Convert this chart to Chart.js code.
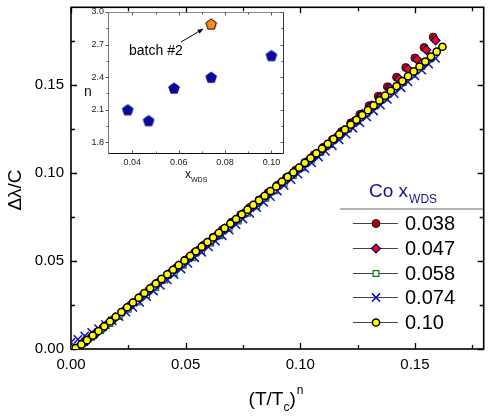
<!DOCTYPE html>
<html>
<head>
<meta charset="utf-8">
<script src="https://cdn.jsdelivr.net/npm/chart.js@4/dist/chart.umd.min.js"></script>
<style>
  html, body { margin: 0; padding: 0; background: #fff; }
  #wrap { position: relative; width: 491px; height: 417px; }
  #main { position: absolute; left: 0; top: 0; }
  #inset { position: absolute; left: 80px; top: 5px; }
</style>
</head>
<body>
<div id="wrap">
  <canvas id="main" width="491" height="417"></canvas>
  <canvas id="inset" width="210" height="185"></canvas>
</div>
<script>
// main plot: (T/Tc)^n vs Δλ/C, one series per Co content
const seriesLabels = ["0.038", "0.047", "0.058", "0.074", "0.10"];

const x038 = [0.002,0.006,0.010,0.014,0.018,0.022,0.026,0.030,0.034,0.038,0.042,0.046,0.050,0.054,0.058,0.062,0.066,0.070,0.074,0.078,
  0.082,0.086,0.090,0.094,0.098,0.102,0.106,0.110,0.114,0.118,0.122,0.126,0.130,0.134,0.138,0.142,0.146,0.150,0.154,0.158];
const y038 = [0.0004,0.0039,0.0079,0.0121,0.0163,0.0206,0.0248,0.0291,0.0334,0.0377,0.0420,0.0462,0.0505,0.0548,0.0591,0.0634,0.0677,0.0720,0.0762,0.0804,
  0.0846,0.0888,0.0930,0.0974,0.1016,0.1059,0.1102,0.1145,0.1189,0.1235,0.1284,0.1332,0.1381,0.1435,0.1489,0.1543,0.1598,0.1652,0.1712,0.1771];

const x047 = [0.003,0.007,0.011,0.015,0.019,0.023,0.027,0.031,0.035,0.039,0.043,0.047,0.051,0.055,0.059,0.063,0.067,0.071,0.075,0.079,
  0.083,0.087,0.091,0.095,0.099,0.103,0.107,0.111,0.115,0.119,0.123,0.127,0.131,0.135,0.139,0.143,0.147,0.151,0.155,0.159];
const y047 = [0.0008,0.0047,0.0089,0.0131,0.0175,0.0218,0.0261,0.0304,0.0347,0.0390,0.0431,0.0473,0.0515,0.0557,0.0599,0.0641,0.0683,0.0725,0.0767,0.0809,
  0.0852,0.0894,0.0936,0.0979,0.1022,0.1065,0.1108,0.1151,0.1194,0.1240,0.1288,0.1334,0.1382,0.1431,0.1482,0.1534,0.1589,0.1643,0.1698,0.1752];

const x058 = [0.001,0.005,0.009,0.013,0.017,0.021,0.025,0.029,0.033,0.037,0.041,0.045,0.049,0.053,0.057,0.061,0.065,0.069,0.073,0.077,
  0.081,0.085,0.089,0.093,0.097,0.101,0.105,0.109,0.113,0.117,0.121,0.125,0.129,0.133,0.137,0.141,0.145,0.149,0.153,0.157];
const y058 = [0.0002,0.0030,0.0066,0.0105,0.0144,0.0184,0.0225,0.0266,0.0307,0.0349,0.0391,0.0433,0.0475,0.0517,0.0559,0.0601,0.0643,0.0685,0.0727,0.0770,
  0.0812,0.0855,0.0898,0.0941,0.0984,0.1028,0.1072,0.1116,0.1160,0.1204,0.1248,0.1292,0.1336,0.1380,0.1424,0.1469,0.1514,0.1559,0.1604,0.1650];

const x074 = [0.000,0.003,0.006,0.009,0.012,0.015,0.018,0.021,0.024,0.027,0.030,0.033,0.036,0.039,0.042,0.045,0.048,0.051,0.054,0.057,
  0.060,0.063,0.066,0.069,0.072,0.075,0.078,0.081,0.084,0.087,0.090,0.093,0.096,0.099,0.102,0.105,0.108,0.111,0.114,0.117,
  0.120,0.123,0.126,0.129,0.132,0.135,0.138,0.141,0.144,0.147,0.150,0.153,0.156,0.159];
const y074 = [0.0038,0.0055,0.0074,0.0095,0.0116,0.0138,0.0160,0.0184,0.0209,0.0236,0.0265,0.0297,0.0329,0.0361,0.0392,0.0423,0.0454,0.0486,0.0518,0.0549,
  0.0580,0.0612,0.0643,0.0675,0.0706,0.0738,0.0770,0.0802,0.0833,0.0865,0.0897,0.0929,0.0961,0.0993,0.1025,0.1057,0.1090,0.1122,0.1155,0.1187,
  0.1220,0.1253,0.1285,0.1318,0.1351,0.1384,0.1417,0.1450,0.1483,0.1517,0.1550,0.1583,0.1617,0.1650];

const x10 = [0.002,0.0045,0.007,0.0095,0.012,0.0145,0.017,0.0195,0.022,0.0245,0.027,0.0295,0.032,0.0345,0.037,0.0395,0.042,0.0445,0.047,0.0495,
  0.052,0.0545,0.057,0.0595,0.062,0.0645,0.067,0.0695,0.072,0.0745,0.077,0.0795,0.082,0.0845,0.087,0.0895,0.092,0.0945,0.097,0.0995,
  0.102,0.1045,0.107,0.1095,0.112,0.1145,0.117,0.1195,0.122,0.1245,0.127,0.1295,0.132,0.1345,0.137,0.1395,0.142,0.1445,0.147,0.1495,
  0.152,0.1545,0.157,0.1595,0.162];
const y10 = [0.0005,0.0026,0.0050,0.0076,0.0102,0.0129,0.0156,0.0183,0.0210,0.0237,0.0264,0.0291,0.0318,0.0345,0.0372,0.0398,0.0424,0.0450,0.0476,0.0502,
  0.0529,0.0555,0.0581,0.0607,0.0633,0.0660,0.0686,0.0712,0.0738,0.0765,0.0791,0.0818,0.0844,0.0870,0.0897,0.0923,0.0950,0.0977,0.1003,0.1030,
  0.1057,0.1084,0.1111,0.1138,0.1165,0.1192,0.1219,0.1246,0.1274,0.1301,0.1328,0.1356,0.1383,0.1411,0.1438,0.1466,0.1493,0.1521,0.1549,0.1576,
  0.1604,0.1632,0.1660,0.1688,0.1716];

const xMajor = [0, 0.05, 0.10, 0.15];
const xMinor = [0.025, 0.075, 0.125, 0.175];
const yMajor = [0, 0.05, 0.10, 0.15];
const yMinor = [0.025, 0.075, 0.125, 0.175];

// inset: exponent n vs x_WDS
const insetX = [0.038, 0.047, 0.058, 0.074, 0.100];
const insetN = [2.10, 2.00, 2.30, 2.40, 2.60];
const batchX = [0.074];
const batchN = [2.89];
const insetXMajor = [0.04, 0.06, 0.08, 0.10];
const insetXMinor = [0.05, 0.07, 0.09];
const insetYMajor = [1.8, 2.1, 2.4, 2.7, 3.0];
const insetYMinor = [1.95, 2.25, 2.55, 2.85];

const FONT = '"Liberation Sans", Arial, sans-serif';

function pts(xs, ys) {
  return xs.map((x, i) => ({ x: x, y: ys[i] }));
}

// fixed axis sizes, and no extra room for half tick labels
function fixW(w) {
  return s => { s.width = w; s.paddingTop = 0; s.paddingBottom = 0; };
}
function fixH(h) {
  return s => { s.height = h; s.paddingLeft = 0; s.paddingRight = 0; };
}

const mainSets = [
  { label: seriesLabels[0], data: pts(x038, y038), pointStyle: "circle", pointRadius: 4,
    pointBackgroundColor: "#8c1010", pointBorderColor: "#5a0000", pointBorderWidth: 1, order: 5 },
  { label: seriesLabels[1], data: pts(x047, y047), pointStyle: "rectRot", pointRadius: 4.5,
    pointBackgroundColor: "#ff0000", pointBorderColor: "#00008b", pointBorderWidth: 1.2, order: 4 },
  { label: seriesLabels[2], data: pts(x058, y058), pointStyle: "rect", pointRadius: 4,
    pointBackgroundColor: "#ffffff", pointBorderColor: "#008000", pointBorderWidth: 1.2, order: 3 },
  { label: seriesLabels[3], data: pts(x074, y074), pointStyle: "crossRot", pointRadius: 5.8,
    pointBackgroundColor: "#1010c0", pointBorderColor: "#1010c0", pointBorderWidth: 1.5, order: 2 },
  { label: seriesLabels[4], data: pts(x10, y10), pointStyle: "circle", pointRadius: 3.6,
    pointBackgroundColor: "#ffff00", pointBorderColor: "#000000", pointBorderWidth: 1.5, order: 1 }
];
mainSets.forEach(d => { d.showLine = false; });

function markerAt(ctx, ds, x, y) {
  ctx.fillStyle = ds.pointBackgroundColor;
  ctx.strokeStyle = ds.pointBorderColor;
  ctx.lineWidth = ds.pointBorderWidth;
  Chart.helpers.drawPoint(ctx, { pointStyle: ds.pointStyle, radius: ds.pointRadius, rotation: 0, borderWidth: ds.pointBorderWidth }, x, y);
}

// frame with inward ticks on all four sides
const mainFrame = {
  id: "mainFrame",
  beforeDatasetsDraw(chart) {
    const { ctx, chartArea: a, scales: { x, y } } = chart;
    ctx.save();
    ctx.strokeStyle = "#000";
    ctx.lineWidth = 1.6;
    ctx.strokeRect(a.left, a.top, a.right - a.left, a.bottom - a.top);
    ctx.lineWidth = 1.3;
    ctx.beginPath();
    const tx = (vals, len) => vals.forEach(v => {
      const p = Math.round(x.getPixelForValue(v)) + 0.5;
      ctx.moveTo(p, a.bottom); ctx.lineTo(p, a.bottom - len);
      ctx.moveTo(p, a.top); ctx.lineTo(p, a.top + len);
    });
    const ty = (vals, len) => vals.forEach(v => {
      const p = Math.round(y.getPixelForValue(v)) + 0.5;
      ctx.moveTo(a.left, p); ctx.lineTo(a.left + len, p);
      ctx.moveTo(a.right, p); ctx.lineTo(a.right - len, p);
    });
    tx(xMajor, 6); tx(xMinor, 4); ty(yMajor, 6); ty(yMinor, 4);
    ctx.stroke();
    ctx.restore();
  },
  afterDraw(chart) {
    const ctx = chart.ctx;
    ctx.save();
    ctx.fillStyle = "#000";
    ctx.textBaseline = "alphabetic";

    // x title (T/Tc)^n
    const big = "19px " + FONT, small = "12px " + FONT;
    ctx.font = big; const w1 = ctx.measureText("(T/T").width, w3 = ctx.measureText(")").width;
    ctx.font = small; const w2 = ctx.measureText("c").width, w4 = ctx.measureText("n").width;
    let px = 276 - (w1 + w2 + w3 + w4 + 1) / 2;
    ctx.font = big; ctx.fillText("(T/T", px, 405); px += w1;
    ctx.font = small; ctx.fillText("c", px, 411); px += w2;
    ctx.font = big; ctx.fillText(")", px, 405); px += w3 + 1;
    ctx.font = small; ctx.fillText("n", px, 394);

    // y title
    ctx.save();
    ctx.translate(16, 190);
    ctx.rotate(-Math.PI / 2);
    ctx.font = big; ctx.textAlign = "center"; ctx.textBaseline = "middle";
    ctx.fillText("\u0394\u03bb/C", 0, 0);
    ctx.restore();

    // legend
    ctx.fillStyle = "#14148c";
    ctx.font = "19px " + FONT;
    ctx.fillText("Co x", 369, 197);
    const cw = ctx.measureText("Co x").width;
    ctx.font = "12px " + FONT;
    ctx.fillText("WDS", 369 + cw + 1, 203);
    ctx.strokeStyle = "#b4b4b4"; ctx.lineWidth = 2;
    ctx.beginPath(); ctx.moveTo(340, 209); ctx.lineTo(483, 209); ctx.stroke();

    const rowY = [223, 248, 273, 297, 322];
    chart.data.datasets.forEach((ds, i) => {
      const yy = rowY[i];
      ctx.strokeStyle = "#444"; ctx.lineWidth = 1;
      ctx.beginPath(); ctx.moveTo(353, yy + 0.5); ctx.lineTo(398, yy + 0.5); ctx.stroke();
      markerAt(ctx, ds, 376, yy + 0.5);
      ctx.fillStyle = "#000";
      ctx.font = "20px " + FONT;
      ctx.textBaseline = "middle";
      ctx.fillText(ds.label, 405, yy + 1);
      ctx.textBaseline = "alphabetic";
    });
    ctx.restore();
  }
};

new Chart(document.getElementById("main"), {
  type: "scatter",
  data: { datasets: mainSets },
  options: {
    responsive: false,
    animation: false,
    layout: { padding: { top: 2, right: 4, left: 0, bottom: 0 } },
    plugins: { legend: { display: false }, tooltip: { enabled: false } },
    scales: {
      x: {
        type: "linear", min: 0, max: 0.18,
        grid: { display: false, drawTicks: false }, border: { display: false },
        afterBuildTicks: s => { s.ticks = xMajor.map(v => ({ value: v })); },
        afterFit: fixH(68),
        ticks: { callback: v => v.toFixed(2), color: "#000", font: { family: FONT, size: 15 }, padding: 7, maxRotation: 0, autoSkip: false }
      },
      y: {
        type: "linear", min: 0, max: 0.194,
        grid: { display: false, drawTicks: false }, border: { display: false },
        afterBuildTicks: s => { s.ticks = yMajor.map(v => ({ value: v })); },
        afterFit: fixW(71),
        ticks: { callback: v => v.toFixed(2), color: "#000", font: { family: FONT, size: 15 }, padding: 7, autoSkip: false }
      }
    }
  },
  plugins: [mainFrame]
});

// pentagon marker images for the inset
function pentagon(fill, stroke) {
  const c = document.createElement("canvas");
  c.width = 14; c.height = 14;
  const g = c.getContext("2d");
  g.beginPath();
  for (let k = 0; k < 5; k++) {
    const ang = -Math.PI / 2 + k * 2 * Math.PI / 5;
    const px = 7 + 5.6 * Math.cos(ang), py = 7.6 + 5.6 * Math.sin(ang);
    k ? g.lineTo(px, py) : g.moveTo(px, py);
  }
  g.closePath();
  g.fillStyle = fill; g.fill();
  g.strokeStyle = stroke; g.lineWidth = 1; g.stroke();
  return c;
}

const insetFrame = {
  id: "insetFrame",
  beforeDatasetsDraw(chart) {
    const { ctx, chartArea: a, scales: { x, y } } = chart;
    ctx.save();
    ctx.lineWidth = 1;
    const line = (c, x1, y1, x2, y2) => { ctx.strokeStyle = c; ctx.beginPath(); ctx.moveTo(x1, y1); ctx.lineTo(x2, y2); ctx.stroke(); };
    const L = a.left + 0.5, R = a.right + 0.5, T = a.top + 0.5, B = a.bottom + 0.5;
    line("#888", L, T, R, T);
    line("#777", L, T, L, B);
    line("#333", R, T, R, B);
    line("#111", L, B, R, B);
    ctx.strokeStyle = "#555";
    ctx.beginPath();
    const tx = (vals, len) => vals.forEach(v => {
      const p = Math.round(x.getPixelForValue(v)) + 0.5;
      ctx.moveTo(p, B); ctx.lineTo(p, B - len);
      ctx.moveTo(p, T); ctx.lineTo(p, T + len);
    });
    const ty = (vals, len) => vals.forEach(v => {
      const p = Math.round(y.getPixelForValue(v)) + 0.5;
      ctx.moveTo(L, p); ctx.lineTo(L - len, p);
      ctx.moveTo(R, p); ctx.lineTo(R - len, p);
    });
    tx(insetXMajor, 3); tx(insetXMinor, 2); ty(insetYMajor, 3); ty(insetYMinor, 2);
    ctx.stroke();
    ctx.restore();
  },
  afterDraw(chart) {
    const { ctx, scales: { x, y } } = chart;
    ctx.save();
    ctx.fillStyle = "#111";
    ctx.font = "14px " + FONT;
    ctx.textAlign = "center"; ctx.textBaseline = "middle";
    ctx.fillText("n", 8, 87);
    ctx.textAlign = "left"; ctx.textBaseline = "alphabetic";
    ctx.font = "12px " + FONT;
    ctx.fillText("x", 105, 173);
    ctx.font = "7px " + FONT;
    ctx.fillText("WDS", 111, 177);

    ctx.fillStyle = "#000";
    ctx.font = "14px " + FONT;
    ctx.fillText("batch #2", 49, 50);

    // arrow to the batch #2 point
    const ex = x.getPixelForValue(batchX[0]) - 8, ey = y.getPixelForValue(batchN[0]) + 5;
    const sx = 101, sy = 37;
    ctx.strokeStyle = "#000"; ctx.lineWidth = 1;
    ctx.beginPath(); ctx.moveTo(sx, sy); ctx.lineTo(ex, ey); ctx.stroke();
    const ang = Math.atan2(ey - sy, ex - sx);
    ctx.beginPath();
    ctx.moveTo(ex, ey);
    ctx.lineTo(ex - 6 * Math.cos(ang - 0.4), ey - 6 * Math.sin(ang - 0.4));
    ctx.lineTo(ex - 6 * Math.cos(ang + 0.4), ey - 6 * Math.sin(ang + 0.4));
    ctx.closePath(); ctx.fill();
    ctx.restore();
  }
};

new Chart(document.getElementById("inset"), {
  type: "scatter",
  data: {
    datasets: [
      { label: "n", data: pts(insetX, insetN), pointStyle: pentagon("#0a0a96", "#0a0a96"), pointRadius: 6 },
      { label: "batch #2", data: pts(batchX, batchN), pointStyle: pentagon("#ff8a1c", "#000"), pointRadius: 6 }
    ]
  },
  options: {
    responsive: false,
    animation: false,
    layout: { padding: { top: 7, right: 6, left: 0, bottom: 0 } },
    plugins: { legend: { display: false }, tooltip: { enabled: false } },
    scales: {
      x: {
        type: "linear", min: 0.0295, max: 0.105,
        grid: { display: false, drawTicks: false }, border: { display: false },
        afterBuildTicks: s => { s.ticks = insetXMajor.map(v => ({ value: v })); },
        afterFit: fixH(37),
        ticks: { callback: v => v.toFixed(2), color: "#222", font: { family: FONT, size: 9 }, padding: 4, maxRotation: 0, autoSkip: false }
      },
      y: {
        type: "linear", min: 1.7, max: 3.0,
        grid: { display: false, drawTicks: false }, border: { display: false },
        afterBuildTicks: s => { s.ticks = insetYMajor.map(v => ({ value: v })); },
        afterFit: fixW(28),
        ticks: { callback: v => v.toFixed(1), color: "#222", font: { family: FONT, size: 9 }, padding: 4, autoSkip: false }
      }
    }
  },
  plugins: [insetFrame]
});
</script>
</body>
</html>
